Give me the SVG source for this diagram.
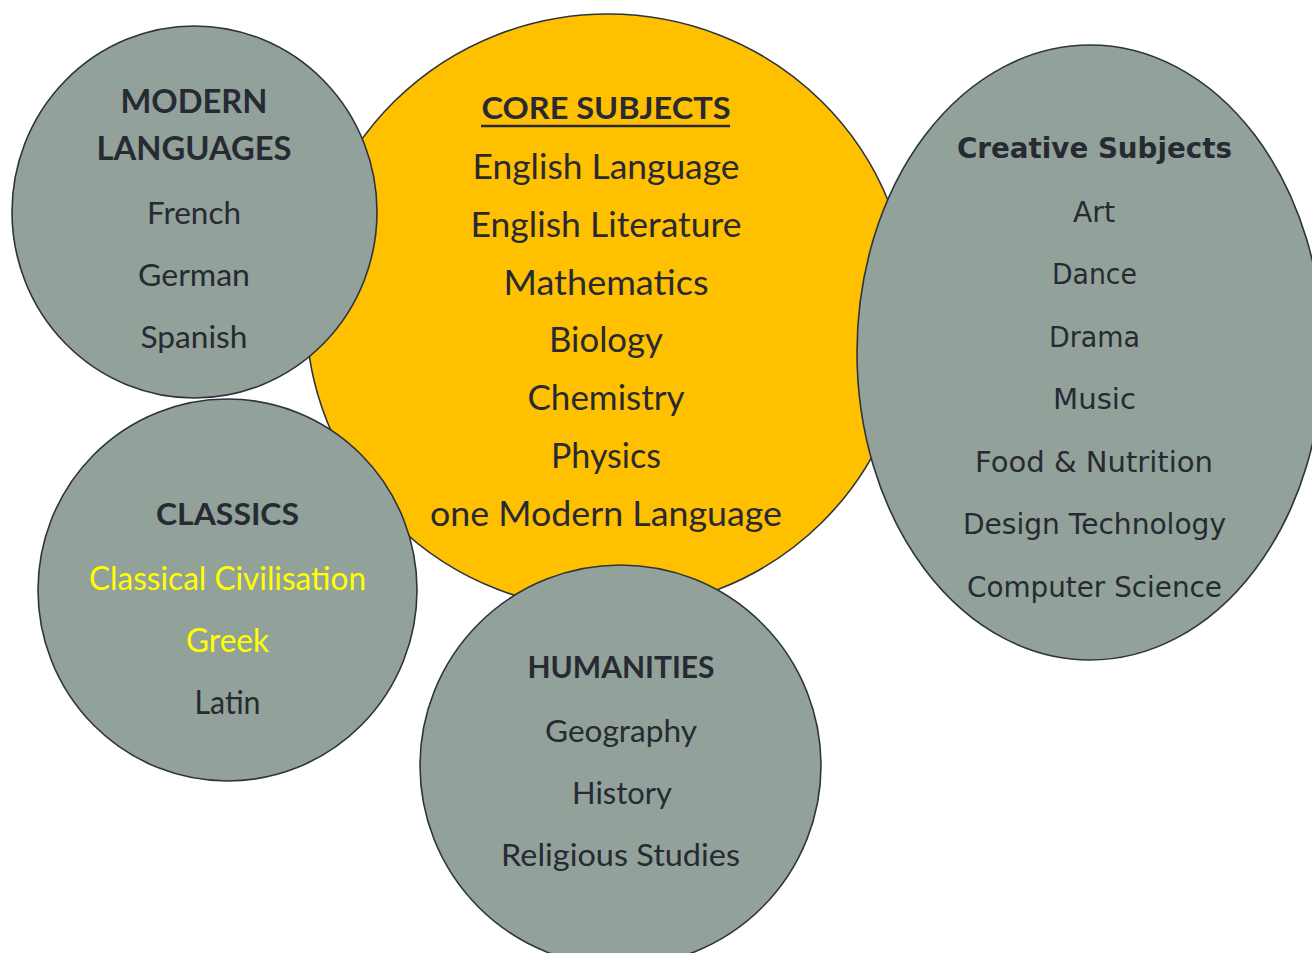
<svg xmlns="http://www.w3.org/2000/svg" width="1312" height="953" viewBox="0 0 1312 953">
<style>
.bub{fill:#92A199;stroke:#2F333D;stroke-width:1.6}
.core{fill:#FFC000;stroke:#2F333D;stroke-width:1.6}
.t{font-family:Lato,"Liberation Sans",sans-serif;fill:#272A33;text-anchor:middle}
.h{font-weight:bold}
.y{fill:#FFFF00}
.v{font-family:"DejaVu Sans","Liberation Sans",sans-serif;fill:#272A33;text-anchor:middle;font-size:27.5px}
</style>
<rect width="1312" height="953" fill="#FFFFFF"/>
<g id="connectors"/>
<g id="core">
<ellipse class="core" cx="608" cy="312" rx="302" ry="298"/>
<text class="t h" x="606" y="119" font-size="31" textLength="249" lengthAdjust="spacingAndGlyphs">CORE SUBJECTS</text>
<line x1="481" y1="126" x2="730" y2="126" stroke="#272A33" stroke-width="2.5"/>
<g font-size="34">
<text class="t" x="606" y="179" textLength="267" lengthAdjust="spacingAndGlyphs">English Language</text>
<text class="t" x="606" y="237" textLength="271" lengthAdjust="spacingAndGlyphs">English Literature</text>
<text class="t" x="606" y="295" textLength="205" lengthAdjust="spacingAndGlyphs">Mathematics</text>
<text class="t" x="606" y="352" textLength="114" lengthAdjust="spacingAndGlyphs">Biology</text>
<text class="t" x="606" y="410" textLength="157" lengthAdjust="spacingAndGlyphs">Chemistry</text>
<text class="t" x="606" y="468" textLength="110" lengthAdjust="spacingAndGlyphs">Physics</text>
<text class="t" x="606" y="526" textLength="352" lengthAdjust="spacingAndGlyphs">one Modern Language</text>
</g>
</g>
<g id="modern-languages">
<ellipse class="bub" cx="194.5" cy="212" rx="182.5" ry="186"/>
<text class="t h" x="194" y="113" font-size="32" textLength="147" lengthAdjust="spacingAndGlyphs">MODERN</text>
<text class="t h" x="194" y="160" font-size="32" textLength="195" lengthAdjust="spacingAndGlyphs">LANGUAGES</text>
<text class="t" x="194" y="224" font-size="31" textLength="94" lengthAdjust="spacingAndGlyphs">French</text>
<text class="t" x="194" y="286" font-size="31" textLength="112" lengthAdjust="spacingAndGlyphs">German</text>
<text class="t" x="194" y="348" font-size="31" textLength="107" lengthAdjust="spacingAndGlyphs">Spanish</text>
</g>
<g id="classics">
<ellipse class="bub" cx="227.5" cy="590" rx="189.5" ry="191"/>
<text class="t h" x="227.5" y="525" font-size="31" textLength="143" lengthAdjust="spacingAndGlyphs">CLASSICS</text>
<text class="t y" x="227.5" y="590" font-size="32" textLength="277" lengthAdjust="spacingAndGlyphs">Classical Civilisation</text>
<text class="t y" x="227.5" y="652" font-size="32" textLength="83" lengthAdjust="spacingAndGlyphs">Greek</text>
<text class="t" x="227.5" y="714" font-size="32" textLength="66" lengthAdjust="spacingAndGlyphs">Latin</text>
</g>
<g id="humanities">
<circle class="bub" cx="620.5" cy="765.5" r="200.5"/>
<text class="t h" x="621" y="678" font-size="30" textLength="187" lengthAdjust="spacingAndGlyphs">HUMANITIES</text>
<text class="t" x="621" y="742" font-size="31" textLength="152" lengthAdjust="spacingAndGlyphs">Geography</text>
<text class="t" x="622" y="804" font-size="31" textLength="100" lengthAdjust="spacingAndGlyphs">History</text>
<text class="t" x="620.5" y="866" font-size="31" textLength="239" lengthAdjust="spacingAndGlyphs">Religious Studies</text>
</g>
<g id="creative-subjects">
<ellipse class="bub" cx="1090" cy="352.5" rx="233" ry="307.5"/>
<text class="v" x="1094.5" y="158" font-size="30" font-weight="bold" textLength="275" lengthAdjust="spacingAndGlyphs">Creative Subjects</text>
<text class="v" x="1094" y="222" textLength="42" lengthAdjust="spacingAndGlyphs">Art</text>
<text class="v" x="1094.5" y="284" textLength="85" lengthAdjust="spacingAndGlyphs">Dance</text>
<text class="v" x="1094.5" y="347" textLength="91" lengthAdjust="spacingAndGlyphs">Drama</text>
<text class="v" x="1094.5" y="409" textLength="83" lengthAdjust="spacingAndGlyphs">Music</text>
<text class="v" x="1094" y="472" textLength="238" lengthAdjust="spacingAndGlyphs">Food &amp; Nutrition</text>
<text class="v" x="1094.5" y="534" textLength="263" lengthAdjust="spacingAndGlyphs">Design Technology</text>
<text class="v" x="1094.5" y="597" textLength="255" lengthAdjust="spacingAndGlyphs">Computer Science</text>
</g>
</svg>
